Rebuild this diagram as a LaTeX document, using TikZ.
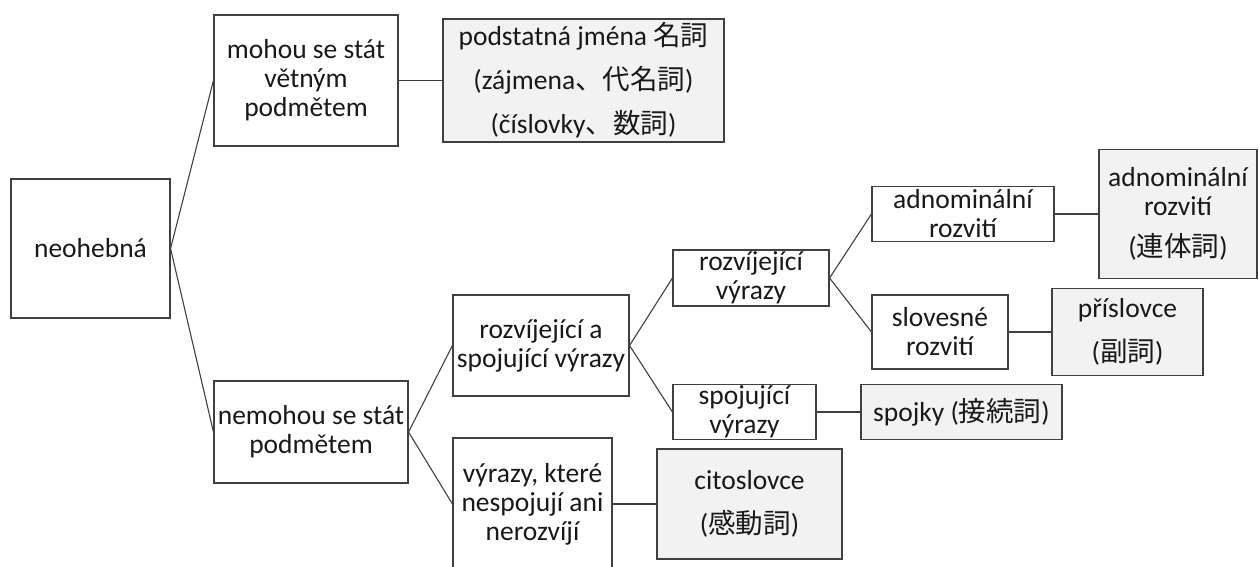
\documentclass[tikz,border=0pt]{standalone}
\usepackage{fontspec}
\setmainfont{Carlito}
\newfontfamily\jp{Noto Sans CJK JP}
\definecolor{edgecol}{HTML}{404040}
\definecolor{grayfill}{HTML}{F2F2F2}
\begin{document}
\begin{tikzpicture}[x=1pt,y=-1pt,
  box/.style={draw=edgecol,line width=1.1pt,fill=white,align=center,inner sep=0pt,
    font=\fontsize{27.5}{29}\selectfont,text=black!90},
  gbox/.style={box,fill=grayfill},
  conn/.style={draw=edgecol,line width=1.1pt}]
\useasboundingbox (0,0) rectangle (1259,566);
\node[box,minimum width=159,minimum height=139] (neo) at (90.5,248.5) {neohebná};
\node[box,minimum width=184,minimum height=131] (mohou) at (306,80.5) {mohou se stát\\větným\\podmětem};
\node[gbox,minimum width=281,minimum height=123] (podst) at (583.5,80.5) {podstatná jména {\jp 名詞}\\[15pt](zájmena{\jp 、代名詞})\\[15pt](číslovky{\jp 、数詞})};
\node[box,minimum width=194,minimum height=102] (nemohou) at (311,432) {nemohou se stát\\podmětem};
\node[box,minimum width=176,minimum height=101] (rasv) at (541,345.5) {rozvíjející a\\spojující výrazy};
\node[box,minimum width=159,minimum height=132] (vyr) at (532.5,504) {výrazy, které\\nespojují ani\\nerozvíjí};
\node[gbox,minimum width=185,minimum height=110] (cito) at (749.5,504) {citoslovce\\[15pt]({\jp 感動詞})};
\node[box,minimum width=156,minimum height=56] (rozv) at (751,278) {rozvíjející\\výrazy};
\node[box,minimum width=143,minimum height=55] (spoj) at (744.5,412) {spojující\\výrazy};
\node[box,minimum width=182,minimum height=55] (adn) at (963,214) {adnominální\\rozvití};
\node[box,minimum width=136,minimum height=74] (slov) at (940,332) {slovesné\\rozvití};
\node[gbox,minimum width=158,minimum height=129] (adng) at (1178,214) {adnominální\\rozvití\\[12pt]({\jp 連体詞})};
\node[gbox,minimum width=151,minimum height=87] (prisl) at (1127.5,332) {příslovce\\[15pt]({\jp 副詞})};
\node[gbox,minimum width=201,minimum height=55] (spojky) at (961.5,412) {spojky ({\jp 接続詞})};
\draw[conn] (neo.east) -- (mohou.west);
\draw[conn] (neo.east) -- (nemohou.west);
\draw[conn] (mohou.east) -- (podst.west);
\draw[conn] (nemohou.east) -- (rasv.west);
\draw[conn] (nemohou.east) -- (vyr.west);
\draw[conn] (vyr.east) -- (cito.west);
\draw[conn] (rasv.east) -- (rozv.west);
\draw[conn] (rasv.east) -- (spoj.west);
\draw[conn] (rozv.east) -- (adn.west);
\draw[conn] (rozv.east) -- (slov.west);
\draw[conn] (adn.east) -- (adng.west);
\draw[conn] (slov.east) -- (prisl.west);
\draw[conn] (spoj.east) -- (spojky.west);
\end{tikzpicture}
\end{document}
